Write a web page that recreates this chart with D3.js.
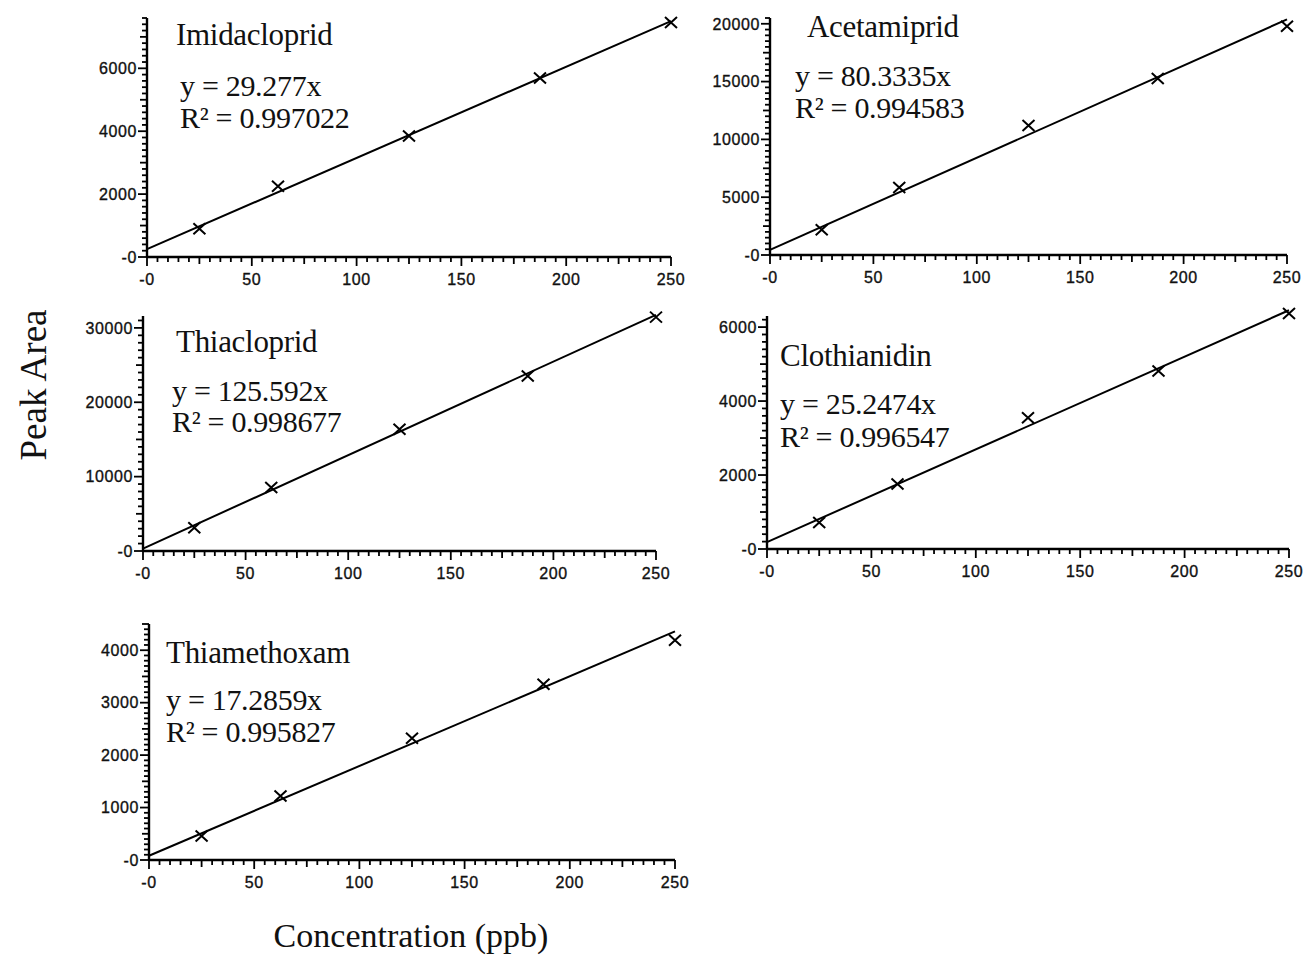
<!DOCTYPE html>
<html>
<head>
<meta charset="utf-8">
<script src="https://cdn.jsdelivr.net/npm/d3@7"></script>
<style>
body { margin: 0; background: #fff; }
svg { display: block; }
.tick-label { font-family: 'Liberation Sans', Arial, sans-serif; font-size: 16px; letter-spacing: 0.6px; fill: #111; stroke: #111; stroke-width: 0.35px; }
.note { font-family: 'Liberation Serif', 'Times New Roman', serif; fill: #111; }
</style>
</head>
<body>
<svg id="chart" width="1309" height="957"></svg>
<script>
// values
const compounds = ['Imidacloprid', 'Acetamiprid', 'Thiacloprid', 'Clothianidin', 'Thiamethoxam'];
const concentrations = [25, 62.5, 125, 187.5, 250];
const peakAreas = [
    [900, 2250, 3850, 5690, 7455],
    [2190, 5840, 11210, 15270, 19790],
    [3120, 8550, 16380, 23530, 31450],
    [716, 1760, 3550, 4810, 6370],
    [456, 1220, 2320, 3350, 4190]
];
const equations = ['y = 29.277x', 'y = 80.3335x', 'y = 125.592x', 'y = 25.2474x', 'y = 17.2859x'];
const rSquared = ['R² = 0.997022', 'R² = 0.994583', 'R² = 0.998677', 'R² = 0.996547', 'R² = 0.995827'];
// fitted line as drawn, value at x=0 and at x=250
const lineStart = [250, 440, 320, 186, 81];
const lineEnd = [7500, 20380, 31760, 6455, 4360];
const yMax = [7600, 20500, 31600, 6300, 4500];
const yMajor = [2000, 5000, 10000, 2000, 1000];
const yMinor = [200, 500, 1000, 200, 100];
const xMax = 250, xMajor = 50, xMinor = 5;

// panel boxes in pixels and text spots
const layout = [
    { left: 147, right: 671, top: 18, bottom: 257, title: [176, 45], eq: [180, 96], r2: [180, 128] },
    { left: 770, right: 1287, top: 18, bottom: 255, title: [807, 37], eq: [795, 86], r2: [795, 118] },
    { left: 143, right: 656, top: 316, bottom: 551, title: [176, 352], eq: [172, 401], r2: [172, 432] },
    { left: 767, right: 1289, top: 316, bottom: 549, title: [780, 366], eq: [780, 414], r2: [780, 447] },
    { left: 149, right: 675, top: 624, bottom: 860, title: [166, 663], eq: [166, 710], r2: [166, 742] }
];

const svg = d3.select('#chart');
const fmt = d => d === 0 ? '-0' : String(d);

function tickLen(v, major) {
    if (Math.abs(v % major) < 1e-6) return 9;
    if (Math.abs(v % (major / 2)) < 1e-6) return 7;
    return 5;
}

compounds.forEach((name, i) => {
    const box = layout[i];
    const x = d3.scaleLinear().domain([0, xMax]).range([box.left, box.right]);
    const y = d3.scaleLinear().domain([0, yMax[i]]).range([box.bottom, box.top]);
    const g = svg.append('g');

    // axes lines
    g.append('line')
        .attr('x1', x(0)).attr('x2', x(0))
        .attr('y1', y(yMax[i])).attr('y2', y(0))
        .attr('stroke', '#000').attr('stroke-width', 2.4);
    g.append('line')
        .attr('x1', x(0)).attr('x2', x(xMax))
        .attr('y1', y(0)).attr('y2', y(0))
        .attr('stroke', '#000').attr('stroke-width', 2.4);

    // y ticks
    const yTicks = d3.range(0, yMax[i] + 1e-6, yMinor[i]);
    g.selectAll('.ytick')
        .data(yTicks)
        .enter().append('line')
        .attr('x1', x(0))
        .attr('x2', d => x(0) - tickLen(d, yMajor[i]))
        .attr('y1', d => y(d)).attr('y2', d => y(d))
        .attr('stroke', '#000').attr('stroke-width', 1.8);
    g.selectAll('.ylab')
        .data(d3.range(0, yMax[i] + 1e-6, yMajor[i]))
        .enter().append('text')
        .classed('tick-label', true)
        .attr('x', x(0) - 10)
        .attr('y', d => y(d))
        .attr('dy', '0.36em')
        .attr('text-anchor', 'end')
        .text(fmt);

    // x ticks
    const xTicks = d3.range(0, xMax + 1e-6, xMinor);
    g.selectAll('.xtick')
        .data(xTicks)
        .enter().append('line')
        .attr('x1', d => x(d)).attr('x2', d => x(d))
        .attr('y1', y(0))
        .attr('y2', d => y(0) + tickLen(d, xMajor))
        .attr('stroke', '#000').attr('stroke-width', 1.8);
    g.selectAll('.xlab')
        .data(d3.range(0, xMax + 1e-6, xMajor))
        .enter().append('text')
        .classed('tick-label', true)
        .attr('x', d => x(d))
        .attr('y', y(0) + 28)
        .attr('text-anchor', 'middle')
        .text(fmt);

    // fitted line
    g.append('line')
        .attr('x1', x(0)).attr('y1', y(lineStart[i]))
        .attr('x2', x(xMax)).attr('y2', y(lineEnd[i]))
        .attr('stroke', '#000').attr('stroke-width', 2);

    // markers
    g.selectAll('.pt')
        .data(concentrations.map((c, j) => [c, peakAreas[i][j]]))
        .enter().append('path')
        .attr('transform', d => `translate(${x(d[0])},${y(d[1])})`)
        .attr('d', 'M-6,-5.5L6,5.5M-6,5.5L6,-5.5')
        .attr('stroke', '#000').attr('stroke-width', 2)
        .attr('fill', 'none');

    // annotations
    g.append('text').classed('note', true)
        .attr('x', box.title[0]).attr('y', box.title[1])
        .attr('font-size', 31)
        .attr('letter-spacing', -0.3)
        .text(name);
    g.append('text').classed('note', true)
        .attr('x', box.eq[0]).attr('y', box.eq[1])
        .attr('font-size', 30)
        .attr('letter-spacing', -0.3)
        .text(equations[i]);
    g.append('text').classed('note', true)
        .attr('x', box.r2[0]).attr('y', box.r2[1])
        .attr('font-size', 30)
        .attr('letter-spacing', -0.3)
        .text(rSquared[i]);
});

// shared axis titles
svg.append('text').classed('note', true)
    .attr('transform', 'translate(46,385) rotate(-90)')
    .attr('text-anchor', 'middle')
    .attr('font-size', 37)
    .text('Peak Area');
svg.append('text').classed('note', true)
    .attr('x', 411).attr('y', 947)
    .attr('text-anchor', 'middle')
    .attr('font-size', 34)
    .text('Concentration (ppb)');
</script>
</body>
</html>
